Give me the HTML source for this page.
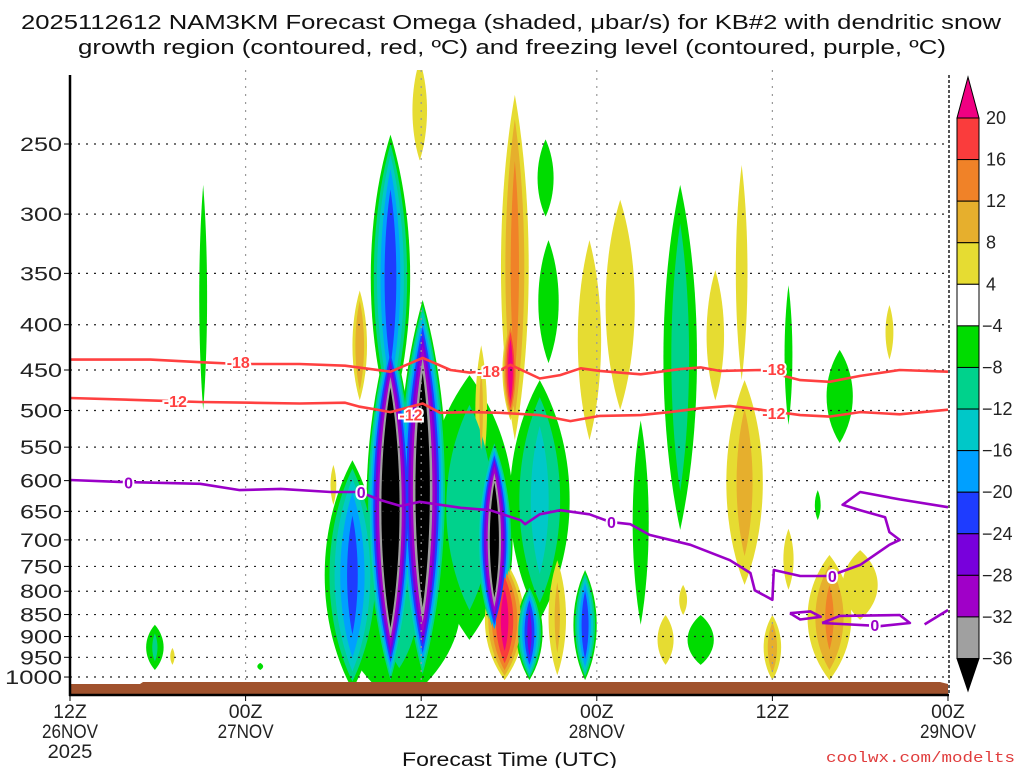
<!DOCTYPE html>
<html><head><meta charset="utf-8"><style>
body{margin:0;background:#fff;}
svg{display:block;font-family:"Liberation Sans",sans-serif;}
</style></head><body>
<svg id="chart" width="1024" height="768" viewBox="0 0 1024 768" xmlns="http://www.w3.org/2000/svg">
<rect width="1024" height="768" fill="#fff"/>
<text x="21" y="29" font-size="20" textLength="980" lengthAdjust="spacingAndGlyphs" fill="#111">2025112612 NAM3KM Forecast Omega (shaded, μbar/s) for KB#2 with dendritic snow</text>
<text x="78" y="54" font-size="20" textLength="868" lengthAdjust="spacingAndGlyphs" fill="#111">growth region (contoured, red, ºC) and freezing level (contoured, purple, ºC)</text>
<g id="plot"></g>
<g id="axes"></g>
<g id="cbar"></g>
<text x="402" y="766" font-size="19" textLength="215" lengthAdjust="spacingAndGlyphs" fill="#111">Forecast Time (UTC)</text>
<text x="826" y="762" font-size="15" textLength="189" lengthAdjust="spacingAndGlyphs" fill="#e03c3c" font-family="Liberation Mono, monospace">coolwx.com/modelts</text>
</svg>
<script>
// ---- data ----
const pressureTicks=[250,300,350,400,450,500,550,600,650,700,750,800,850,900,950,1000];
const timeTickHours=[0,12,24,36,48,60];
const timeTickLabels=[["12Z","26NOV","2025"],["00Z","27NOV"],["12Z"],["00Z","28NOV"],["12Z"],["00Z","29NOV"]];
// omega cells: hour, top pressure, bottom pressure, half-width (hours), peak value (μbar/s)
const cellHour=[22.5,9.1,5.8,7.0,13.0,27.3,32.1,19.3,21.9,21.9,24.1,29.0,32.5,32.7,23.9,30.4,30.1,19.8,28.1,18.0,29.7,31.4,33.3,35.2,41.7,39.0,35.5,37.6,44.1,46.1,45.9,49.1,52.6,56.0,51.1,49.1,51.9,54.0,48.0,43.1,40.7,41.9];
const cellTop=[640,278,873,927,964,456,462,569,244,406,375,540,247,321,201,220,395,366,422,576,738,787,738,757,278,513,321,289,347,462,264,361,427,380,615,680,728,719,851,851,851,787];
const cellBot=[1080,499,982,969,982,908,862,1034,513,1021,1008,908,302,442,261,540,513,487,591,639,1008,1008,995,1008,682,873,540,499,487,787,462,519,544,438,665,797,1008,862,1008,969,969,851];
const cellHalfWidth=[4.2,0.27,0.6,0.15,0.2,3.0,2.05,1.9,1.35,1.65,1.65,1.25,0.55,0.7,0.5,0.95,0.55,0.5,0.4,0.2,1.35,0.9,0.6,0.8,1.15,0.55,0.8,1.0,0.6,1.25,0.4,0.27,0.9,0.27,0.2,0.35,1.5,1.2,0.6,0.9,0.55,0.27];
const cellPeak=[-9,-6,-9,5,-5,-11,-14,-22,-24,-48,-44,-42,-6,-7,6,14,24,12,9,5,22,-26,9,-24,-11,-6,6,6,6,10,6,-5,-7,5,-5,5,13,6,11,-7,5,5];
// temperature contours
const m18Hours=[0,5.5,8.9,11.6,15.7,18.8,21.9,24.1,26,27.3,29.4,30.1,32.1,33.5,34.9,36.2,39,41.7,43.1,44.4,47.2,49.9,51.9,54,56.7,60];
const m18Press=[438,438,441,443,443,445,452,436,450,453,450,444,460,456,448,451,455,449,447,451,450,462,464,457,450,452];
const m12Hours=[0,5.5,8.9,12.3,15.7,18.8,19.8,21.9,24.1,25.3,27.3,29.4,32.1,34.2,36.2,39,41,43.1,45.1,47.2,49.9,51.9,54,56.7,60];
const m12Press=[484,487,489,490,491,490,495,502,491,503,502,503,506,514,507,506,502,497,494,499,506,508,502,505,499];
const frzHours=[0,3.4,8.9,11.6,14.4,17.8,19.8,21.2,22.6,23.9,26.7,28.7,30.8,31.1,32.1,33.5,35.5,36.9,38.3,39.6,42.4,45.1,46.5,46.8,48,48.1,49.9,51.9,54,56,56.7,56,55.7,54,52.8,54,56.7,60];
const frzPress=[599,602,605,615,613,618,618,631,641,634,644,648,665,672,655,648,655,668,672,691,709,738,763,798,818,757,769,769,747,709,700,686,660,648,639,618,630,643];
const frzLoop1Hours=[49.2,50.6,51.3,49.9,49.2];
const frzLoop1Press=[847,843,855,861,847];
const frzLoop2Hours=[51.4,52.6,56.7,57.4,55.4,51.4];
const frzLoop2Press=[869,853,851,869,876,869];
const frzTailHours=[58.4,60];
const frzTailPress=[872,840];
const labelText=["-18","-18","-18","-12","-12","-12","0","0","0","0","0"];
const labelHours=[11.5,28.6,48.1,7.2,23.3,48.1,4.0,19.9,37.0,52.1,55.0];
const labelPress=[441,451,449,488,505,503,603,618,668,769,874];
const labelColor=["#ff4040","#ff4040","#ff4040","#ff4040","#ff4040","#ff4040","#9a00c8","#9a00c8","#9a00c8","#9a00c8","#9a00c8"];
const cbarLevels=[20,16,12,8,4,-4,-8,-12,-16,-20,-24,-28,-32,-36];

// ---- scales ----
const X0=70,PX_PER_H=14.633;
function xOf(h){return X0+h*PX_PER_H;}
function yOf(p){return 144+384.5*Math.log(p/250);}
const NS="http://www.w3.org/2000/svg";
function mk(tag,attrs,parent){const e=document.createElementNS(NS,tag);for(const k in attrs)e.setAttribute(k,attrs[k]);parent.appendChild(e);return e;}
const plot=document.getElementById('plot'),axes=document.getElementById('axes'),cbar=document.getElementById('cbar');
const negCol=['#00dc00','#00d28c','#00c8c8','#00a0ff','#1e3cff','#7800dc','#a000c8','#a0a0a0','#000000'];
const posCol=['#e6dc32','#e6af2d','#f08228','#fa3c3c','#f00082'];

const clip=mk('clipPath',{id:'pc'},plot);
mk('rect',{x:70,y:70,width:879,height:613},clip);
const shade=mk('g',{'clip-path':'url(#pc)'},plot);



function lens(cx,yt,yb,rx){
  const H=yb-yt,k=rx*1.33;
  return `M${cx} ${yt} C${cx+k} ${yt+0.3*H} ${cx+k} ${yb-0.3*H} ${cx} ${yb} C${cx-k} ${yb-0.3*H} ${cx-k} ${yt+0.3*H} ${cx} ${yt}Z`;
}
for(let li=0;li<9;li++){
  const t=4+li*4;
  for(let i=0;i<cellHour.length;i++){
    const pk=cellPeak[i],a=Math.abs(pk);
    if(a<=t)continue;
    if(pk>0&&li>=posCol.length)continue;
    const s=Math.pow((a-t)/(a-4),0.75);
    const yt0=yOf(cellTop[i]),yb0=yOf(cellBot[i]);
    const cy=(yt0+yb0)/2,hh=(yb0-yt0)/2*Math.pow(s,0.4);
    const rx=Math.max(cellHalfWidth[i]*PX_PER_H*s,1);
    const e=mk('path',{d:lens(xOf(cellHour[i]),cy-hh,cy+hh,rx),fill:pk<0?negCol[li]:posCol[li]},shade);
    
    
  }
}
// grid
pressureTicks.forEach(p=>{
  const l=mk('line',{x1:70,x2:948,y1:yOf(p),y2:yOf(p),stroke:'#222','stroke-width':1.2,'stroke-dasharray':'2 6'},plot);
  
  
});
timeTickHours.slice(1,5).forEach(h=>{
  const l=mk('line',{x1:xOf(h),x2:xOf(h),y1:70,y2:695,stroke:'#999','stroke-width':1.2,'stroke-dasharray':'2 6'},plot);
  
  
});
// terrain
const terr=mk('path',{d:'M70 684 L140 684 L143 682 L940 682 L948 684 L948 694 L70 694 Z',fill:'#a0522d'},plot);


// contours
function line(hs,ps,color,name){
  const d=hs.map((h,i)=>(i?'L':'M')+xOf(h).toFixed(1)+' '+yOf(ps[i]).toFixed(1)).join(' ');
  const e=mk('path',{d:d,fill:'none',stroke:color,'stroke-width':2.6,'stroke-linejoin':'round'},plot);
  
  
}
line(m18Hours,m18Press,'#ff4040','contour-minus18');
line(m12Hours,m12Press,'#ff4040','contour-minus12');
line(frzHours,frzPress,'#9a00c8','freezing-level-contour');
line(frzLoop1Hours,frzLoop1Press,'#9a00c8','freezing-level-loop');
line(frzLoop2Hours,frzLoop2Press,'#9a00c8','freezing-level-loop');
line(frzTailHours,frzTailPress,'#9a00c8','freezing-level-segment');
labelText.forEach((s,i)=>{
  const t=mk('text',{x:xOf(labelHours[i]),y:yOf(labelPress[i])+6,'font-size':16,'font-weight':'bold','text-anchor':'middle',fill:labelColor[i],stroke:'#fff','stroke-width':4,'paint-order':'stroke'},plot);
  t.textContent=s;
  
  
});
// axes
mk('line',{x1:70,x2:70,y1:75,y2:696,stroke:'#000','stroke-width':2.5},axes);
mk('line',{x1:69,x2:949,y1:695,y2:695,stroke:'#000','stroke-width':2.5},axes);
mk('line',{x1:949,x2:949,y1:75,y2:695,stroke:'#555','stroke-width':2,'stroke-dasharray':'3 2'},axes);
pressureTicks.forEach(p=>{
  mk('line',{x1:64,x2:70,y1:yOf(p),y2:yOf(p),stroke:'#000','stroke-width':1},axes);
  const w=String(p).length===4?57:42;
  const t=mk('text',{x:62-w,y:yOf(p)+7,'font-size':19,textLength:w,lengthAdjust:'spacingAndGlyphs',fill:'#222'},axes);
  t.textContent=p;
  
  
});
timeTickHours.forEach((h,i)=>{
  mk('line',{x1:xOf(h),x2:xOf(h),y1:695,y2:701,stroke:'#000','stroke-width':1},axes);
  timeTickLabels[i].forEach((s,j)=>{
    const w=s.length*11.2;
    const t=mk('text',{x:xOf(h)-w/2,y:718+j*20,'font-size':19,textLength:w,lengthAdjust:'spacingAndGlyphs',fill:'#222'},axes);
    t.textContent=s;
    
    
  });
});
// colorbar
const segColors=['#fa3c3c','#f08228','#e6af2d','#e6dc32','#ffffff','#00dc00','#00d28c','#00c8c8','#00a0ff','#1e3cff','#7800dc','#a000c8','#a0a0a0'];
const cbTop=118,cbH=(658.5-118)/13,cbX=957,cbW=22;
const tri1=mk('polygon',{points:`${cbX},${cbTop} ${cbX+cbW},${cbTop} ${cbX+cbW/2},77`,fill:'#f00082',stroke:'#000','stroke-width':1},cbar);


segColors.forEach((c,i)=>{
  const r=mk('rect',{x:cbX,y:cbTop+i*cbH,width:cbW,height:cbH,fill:c,stroke:'#000','stroke-width':1},cbar);
  
  
});
const yb=cbTop+13*cbH;
const tri2=mk('polygon',{points:`${cbX},${yb} ${cbX+cbW},${yb} ${cbX+cbW/2},691`,fill:'#000',stroke:'#000','stroke-width':1},cbar);


cbarLevels.forEach((v,i)=>{
  const t=mk('text',{x:v<0?982:986,y:cbTop+i*cbH+6,'font-size':18,fill:'#222'},cbar);
  t.textContent=v<0?'−'+Math.abs(v):String(v);
  
  
});
</script>
</body></html>
